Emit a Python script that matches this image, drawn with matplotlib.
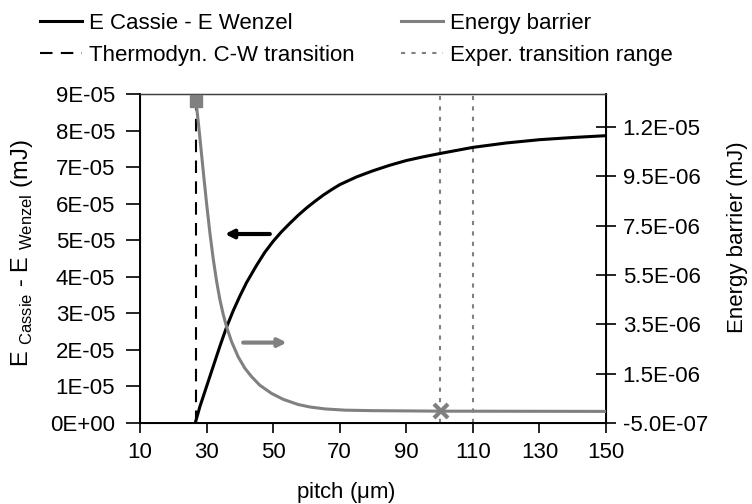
import matplotlib
matplotlib.use("Agg")
import matplotlib.pyplot as plt

plt.rcParams['font.family'] = ['Liberation Sans', 'DejaVu Sans']
plt.rcParams['mathtext.fontset'] = 'custom'
plt.rcParams['mathtext.rm'] = 'Liberation Sans'

# --- data ---
pitch_cw = [26.6, 28, 30, 32, 34, 36, 38, 40, 42, 45, 47.5, 50, 52.5, 55, 57.5,
            60, 62.5, 65, 67.5, 70, 75, 80, 85, 90, 95, 100, 110, 120, 130, 140, 150]
e_cassie_wenzel = [0.0, 0.45e-05, 1.0e-05, 1.55e-05, 2.1e-05, 2.62e-05, 3.07e-05,
                   3.47e-05, 3.84e-05, 4.31e-05, 4.67e-05, 4.97e-05, 5.23e-05,
                   5.46e-05, 5.68e-05, 5.88e-05, 6.06e-05, 6.23e-05, 6.38e-05,
                   6.52e-05, 6.73e-05, 6.90e-05, 7.05e-05, 7.18e-05, 7.28e-05,
                   7.37e-05, 7.54e-05, 7.66e-05, 7.75e-05, 7.81e-05, 7.86e-05]

pitch_eb = [26.8, 27.5, 28, 29, 30, 31, 32, 33, 34, 35, 36, 37.5, 39.5, 41.5, 43.5,
            46, 49.5, 53, 57.5, 61, 65.6, 71.6, 80, 100, 150]
energy_barrier = [1.256e-05, 1.17e-05, 1.105e-05, 9.7e-06, 8.4e-06, 7.2e-06,
                  6.15e-06, 5.25e-06, 4.5e-06, 3.9e-06, 3.4e-06, 2.8e-06, 2.18e-06,
                  1.72e-06, 1.38e-06, 1.03e-06, 7.0e-07, 4.6e-07, 2.5e-07, 1.5e-07,
                  7e-08, 2e-08, 0.0, -2e-08, -3e-08]

thermo_transition = 26.8
exper_range = [100, 110]
exper_point = (100.5, -2e-08)

x_ticks = [10, 30, 50, 70, 90, 110, 130, 150]
left_ticks = [0, 1e-05, 2e-05, 3e-05, 4e-05, 5e-05, 6e-05, 7e-05, 8e-05, 9e-05]
left_labels = ['0E+00', '1E-05', '2E-05', '3E-05', '4E-05', '5E-05', '6E-05',
               '7E-05', '8E-05', '9E-05']
right_ticks = [-5e-07, 1.5e-06, 3.5e-06, 5.5e-06, 7.5e-06, 9.5e-06, 1.15e-05]
right_labels = ['-5.0E-07', '1.5E-06', '3.5E-06', '5.5E-06', '7.5E-06',
                '9.5E-06', '1.2E-05']

gray = '#808080'
fs = 16

fig = plt.figure(figsize=(7.52, 5.04), dpi=100)
ax = fig.add_axes([140 / 752, 81 / 504, 466 / 752, 329 / 504])
ax2 = ax.twinx()

# curves
l_cw, = ax.plot(pitch_cw, e_cassie_wenzel, color='black', lw=2.2, zorder=4,
                label='E Cassie - E Wenzel')
l_th, = ax.plot([thermo_transition, thermo_transition], [0, 9e-05], color='black',
                lw=1.5, dashes=(6, 4), label='Thermodyn. C-W transition')
l_eb, = ax2.plot(pitch_eb, energy_barrier, color=gray, lw=2.2, zorder=3,
                 label='Energy barrier')
ax2.plot(pitch_eb[0], energy_barrier[0], marker='s', color=gray, ms=9,
         clip_on=False, zorder=5)
ax2.plot(*exper_point, marker='x', color=gray, ms=10, mew=3, zorder=5)
l_ex = None
for xv in exper_range:
    l_ex, = ax.plot([xv, xv], [0, 9e-05], color=gray, lw=1.5, dashes=(2, 3),
                    label='Exper. transition range')

# arrows pointing to each curve's axis
ax.annotate('', xy=(35.5, 5.17e-05), xytext=(49, 5.17e-05),
            arrowprops=dict(arrowstyle='-|>', color='black', lw=3, mutation_scale=12,
                            shrinkA=0, shrinkB=0))
ax.annotate('', xy=(54.1, 2.2e-05), xytext=(41, 2.2e-05),
            arrowprops=dict(arrowstyle='-|>', color=gray, lw=3, mutation_scale=12,
                            shrinkA=0, shrinkB=0))

ax.set_xlim(10, 150)
ax.set_ylim(0, 9e-05)
ax2.set_ylim(-5e-07, 1.283e-05)
ax.set_xticks(x_ticks)
ax.set_yticks(left_ticks)
ax.set_yticklabels(left_labels)
ax2.set_yticks(right_ticks)
ax2.set_yticklabels(right_labels)

ax.tick_params(axis='x', direction='out', length=7, width=1.2, pad=7, labelsize=fs)
ax.tick_params(axis='y', direction='out', length=10, width=1.2, pad=8, labelsize=fs)
ax2.tick_params(axis='y', direction='inout', length=14, width=1.2, pad=5, labelsize=fs)

for s in ['left', 'bottom']:
    ax.spines[s].set_linewidth(1.4)
ax2.spines['right'].set_linewidth(1.4)
ax2.spines['top'].set_linewidth(1.0)
ax2.spines['top'].set_color('#404040')

ax.set_xlabel(r'pitch ($\mathrm{\mu}$m)', fontsize=fs)
ax.set_ylabel(r'E $_{\mathrm{Cassie}}$ - E $_{\mathrm{Wenzel}}$ (mJ)', fontsize=fs + 1)
ax2.set_ylabel('Energy barrier (mJ)', fontsize=fs)
ax.xaxis.set_label_coords(0.442, -0.172)
ax.yaxis.set_label_coords(-0.225, 0.517)
ax2.yaxis.set_label_coords(1.26, 0.565)

fig.legend(handles=[l_cw, l_th, l_eb, l_ex], loc='upper left',
           bbox_to_anchor=(40 / 752, 1 - 13 / 504), ncol=2, frameon=False,
           fontsize=fs, handlelength=1.9, handletextpad=0.3, columnspacing=2.1,
           labelspacing=0.5, borderpad=0, borderaxespad=0)

fig.savefig('out.png', dpi=100)
